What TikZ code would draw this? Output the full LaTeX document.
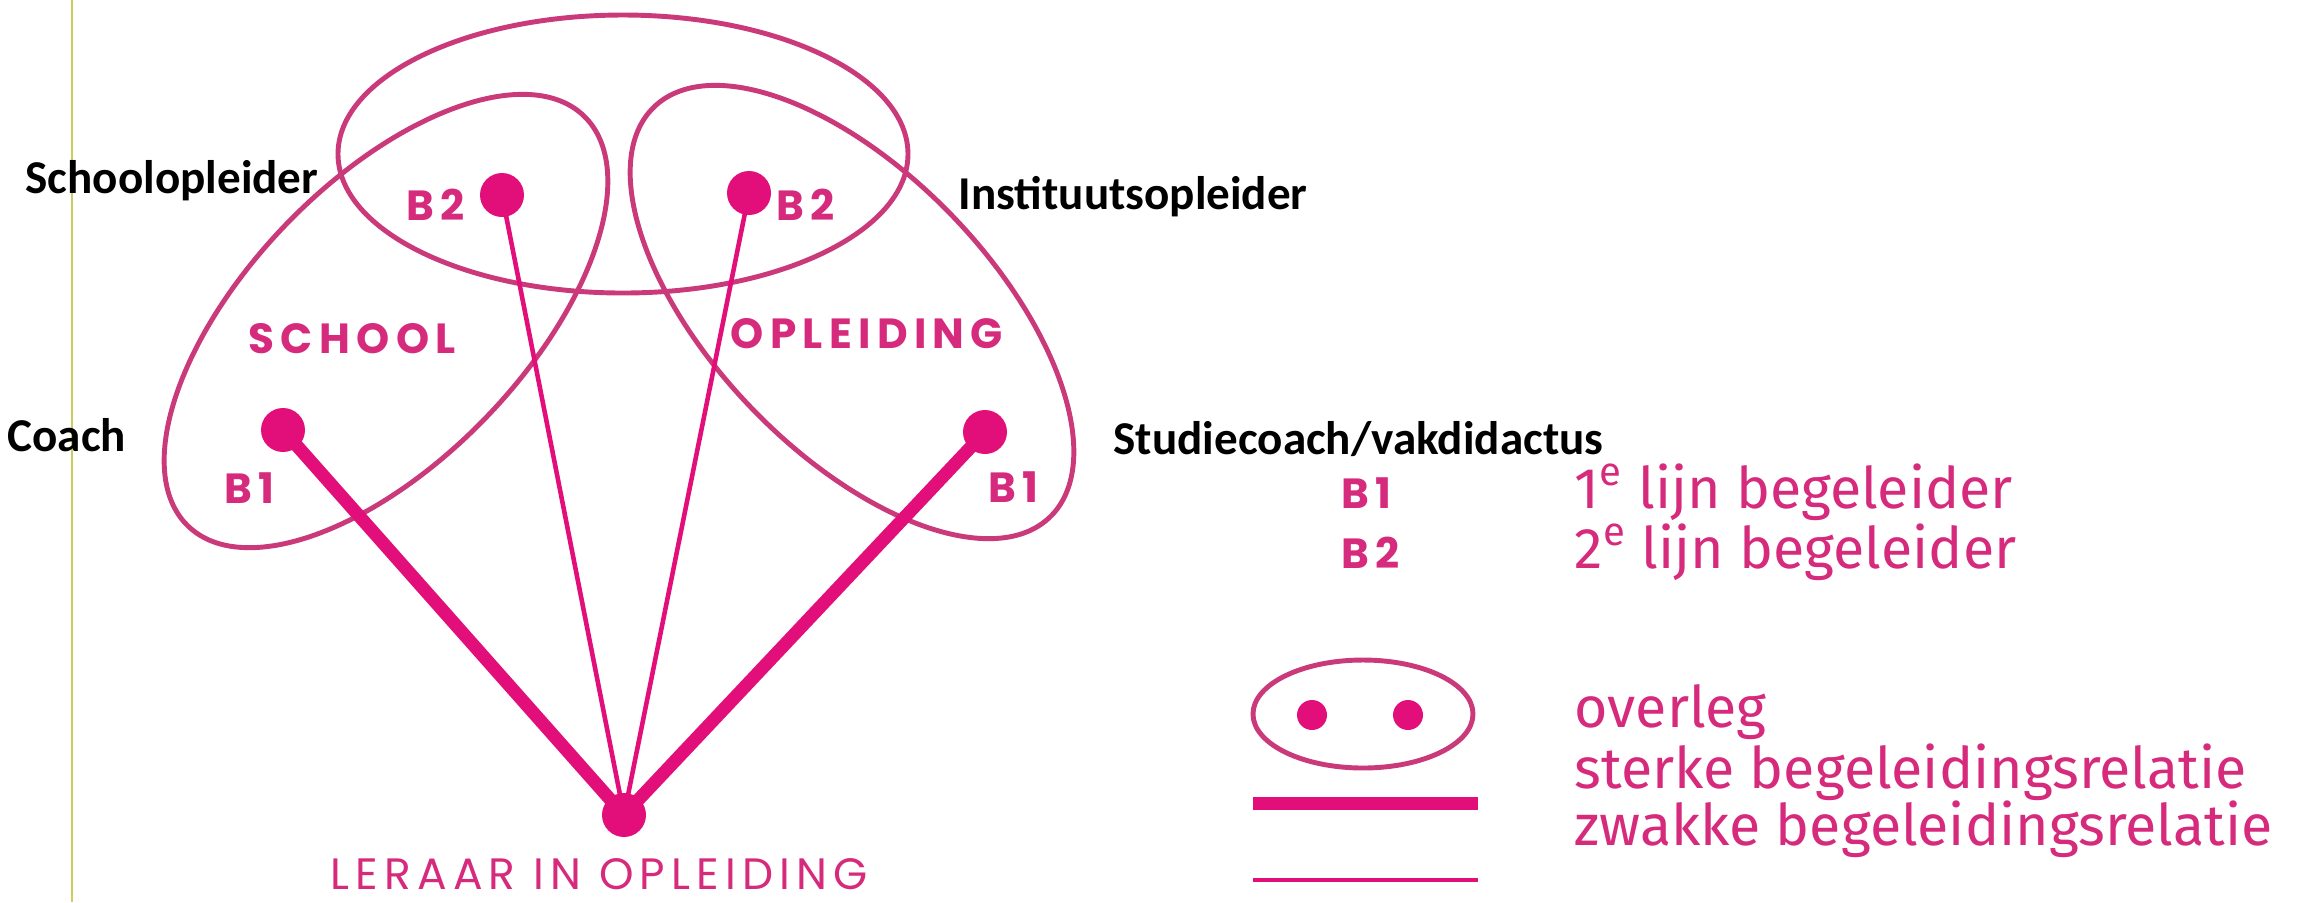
\documentclass[tikz,border=0pt]{standalone}
\usepackage{fontspec}
\setmainfont{Carlito}
\newfontfamily\capsfont[LetterSpace=15]{Poppins}
\newfontfamily\lioFont[LetterSpace=14]{Poppins}
\newfontfamily\legfont{Fira Sans}
\usetikzlibrary{positioning}
\definecolor{lijnroze}{RGB}{226,14,122}
\definecolor{ovaalroze}{RGB}{202,58,122}
\definecolor{tekstroze}{RGB}{214,42,124}
\definecolor{kantlijn}{RGB}{204,204,96}

\begin{document}
\begin{tikzpicture}[
    ovaal/.style={draw=ovaalroze, line width=1.4pt},
    stip/.style={circle, fill=lijnroze, inner sep=0pt, minimum size=4.4mm},
    sterk/.style={draw=lijnroze, line width=3.7pt},
    zwak/.style={draw=lijnroze, line width=1.3pt},
    rol/.style={font=\fontsize{13.4}{16}\selectfont\bfseries, anchor=base west, inner sep=0pt},
    kop/.style={text=tekstroze, font=\capsfont\bfseries\fontsize{12}{14}\selectfont, anchor=base west, inner sep=0pt},
    leg/.style={text=tekstroze, font=\legfont\fontsize{16.3}{18}\selectfont, anchor=base west, inner sep=0pt}
  ]
  \useasboundingbox (0,0) rectangle (23.05,-9.02);
  \draw[kantlijn, line width=0.6pt] (0.72,0) -- (0.72,-9.02);

  % overleg-ovalen
  \draw[ovaal] (6.23,-1.54) ellipse [x radius=2.85, y radius=1.39];
  \draw[ovaal, rotate around={46:(3.86,-3.21)}] (3.86,-3.21) ellipse [x radius=2.85, y radius=1.39];
  \draw[ovaal, rotate around={-46:(8.52,-3.12)}] (8.52,-3.12) ellipse [x radius=2.85, y radius=1.39];

  % begeleiders en leraar in opleiding
  \node[stip] (b2s) at (5.02,-1.95) {};
  \node[stip] (b2o) at (7.49,-1.93) {};
  \node[stip] (b1s) at (2.83,-4.30) {};
  \node[stip] (b1o) at (9.85,-4.32) {};
  \node[stip] (lio) at (6.24,-8.15) {};

  \foreach \b in {b1s,b1o}
    \draw[sterk] (\b.center) -- (lio.center);
  \foreach \b in {b2s,b2o}
    \draw[zwak] (\b.center) -- (lio.center);

  \node[kop] (lb2s) at (4.06,-2.20) {B2};
  \node[kop] (lb2o) at (7.76,-2.20) {B2};
  \node[kop] (lsch) at (2.48,-3.53) {SCHOOL};
  \node[kop] (lopl) at (7.30,-3.48) {OPLEIDING};
  \node[kop] (lb1s) at (2.24,-5.03) {B1};
  \node[kop] (lb1o) at (9.88,-5.02) {B1};
  \node[kop, font=\lioFont\fontsize{12.5}{14}\selectfont] (llio) at (3.30,-8.89) {LERAAR IN OPLEIDING};

  \node[rol] (schop) at (0.25,-1.93) {Schoolopleider};
  \node[rol] (insop) at (9.58,-2.09) {Instituutsopleider};
  \node[rol] (coach) at (0.07,-4.51) {Coach};
  \node[rol] (stuco) at (11.13,-4.54) {Studiecoach/vakdidactus};

  % legenda
  \node[kop] (kb1) at (13.41,-5.08) {B1};
  \node[kop] (kb2) at (13.41,-5.68) {B2};
  \node[leg] (tb1) at (15.74,-5.08) {1\textsuperscript{e} lijn begeleider};
  \node[leg] (tb2) at (15.74,-5.68) {2\textsuperscript{e} lijn begeleider};

  \draw[ovaal] (13.63,-7.14) ellipse [x radius=1.10, y radius=0.54];
  \node[stip, minimum size=3mm] (ov1) at (13.12,-7.15) {};
  \node[stip, minimum size=3mm] (ov2) at (14.08,-7.15) {};
  \draw[sterk] (12.53,-8.03) -- (14.78,-8.03);
  \draw[zwak] (12.53,-8.80) -- (14.78,-8.80);

  \node[leg] (tov) at (15.74,-7.27) {overleg};
  \node[leg] (tst) at (15.74,-7.88) {sterke begeleidingsrelatie};
  \node[leg] (tzw) at (15.74,-8.45) {zwakke begeleidingsrelatie};
\end{tikzpicture}
\end{document}
